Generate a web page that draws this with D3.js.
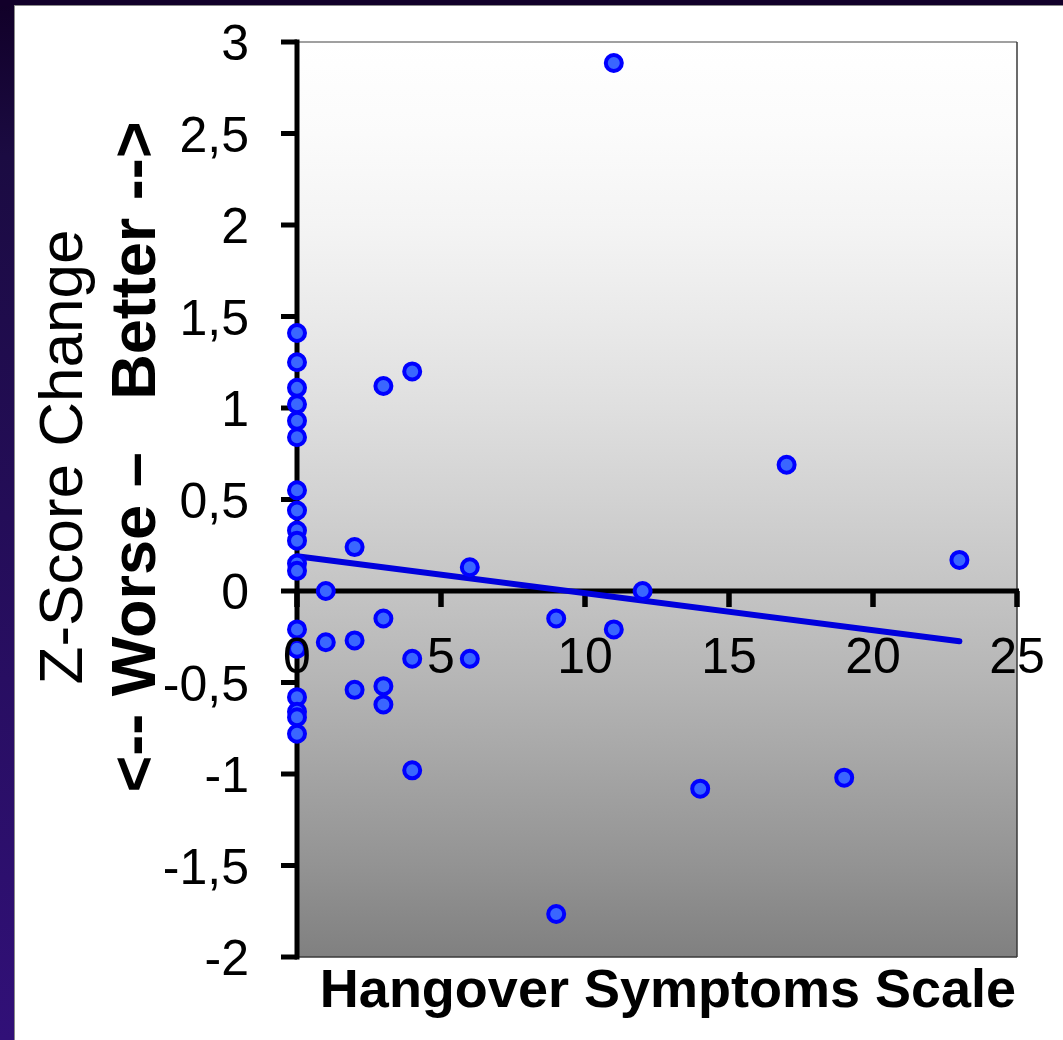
<!DOCTYPE html>
<html>
<head>
<meta charset="utf-8">
<script src="https://cdn.jsdelivr.net/npm/d3@7"></script>
<style>
  html, body { margin: 0; padding: 0; background: #ffffff; }
  svg { display: block; font-family: "Liberation Sans", Arial, sans-serif; }
</style>
</head>
<body>
<svg id="chart" width="1063" height="1040"></svg>
<script>
// Hangover symptom score (x) and change in Z-score (y), one entry per subject
const hangoverScores = [
  0, 0, 0, 0, 0, 0, 0, 0, 0, 0, 0, 0, 0, 0, 0, 0, 0, 0,
  1, 1,
  2, 2, 2,
  3, 3, 3, 3,
  4, 4, 4,
  6, 6,
  9, 9,
  11, 11,
  12, 14, 17, 19, 23
];
const zScoreChange = [
  1.41, 1.25, 1.11, 1.02, 0.93, 0.84, 0.55, 0.44, 0.33, 0.275, 0.15, 0.11, -0.21, -0.315, -0.58, -0.66, -0.69, -0.78,
  0.0, -0.28,
  0.24, -0.27, -0.54,
  1.12, -0.15, -0.52, -0.62,
  1.2, -0.37, -0.98,
  0.13, -0.37,
  -0.15, -1.765,
  2.885, -0.21,
  0.0, -1.08, 0.69, -1.02, 0.17
];

// Linear fit drawn across the observed score range
const trendHangover = [0, 23];
const trendZScore = [0.19, -0.275];

const xTickValues = [0, 5, 10, 15, 20, 25];
const yTickValues = [-2, -1.5, -1, -0.5, 0, 0.5, 1, 1.5, 2, 2.5, 3];

const xAxisTitle = "Hangover Symptoms Scale";
const yAxisTitle = "Z-Score Change";
const yAxisHint = "<-- Worse –   Better -->";

const points = hangoverScores.map((h, i) => ({ h, z: zScoreChange[i] }));
const trend = trendHangover.map((h, i) => ({ h, z: trendZScore[i] }));

const W = 1063, H = 1040;
const plot = { left: 297, right: 1017, top: 42, bottom: 957 };

const x = d3.scaleLinear().domain([0, 25]).range([plot.left, plot.right]);
const y = d3.scaleLinear().domain([-2, 3]).range([plot.bottom, plot.top]);

const locale = d3.formatLocale({ decimal: ",", thousands: ".", grouping: [3], currency: ["", ""], minus: "-" });
const fmt = locale.format("~g");

const svg = d3.select("#chart");
const defs = svg.append("defs");

// Slide background: dark purple frame with a white panel
const frameGrad = defs.append("linearGradient")
  .attr("id", "frameGrad").attr("x1", 0).attr("y1", 0).attr("x2", 0).attr("y2", 1);
frameGrad.append("stop").attr("offset", 0).attr("stop-color", "#110028");
frameGrad.append("stop").attr("offset", 0.15).attr("stop-color", "#1b0b42");
frameGrad.append("stop").attr("offset", 1).attr("stop-color", "#311078");

svg.append("rect").attr("x", 0).attr("y", 0).attr("width", W).attr("height", H)
  .attr("fill", "url(#frameGrad)");
svg.append("rect").attr("x", 0).attr("y", 0).attr("width", W).attr("height", 6)
  .attr("fill", "#12002a");
svg.append("rect").attr("x", 14.5).attr("y", 5.5).attr("width", W).attr("height", H)
  .attr("fill", "#ffffff").attr("stroke", "#8a8a8a").attr("stroke-width", 1);

// Plot area: white fading into mid grey
const plotGrad = defs.append("linearGradient")
  .attr("id", "plotGrad").attr("x1", 0).attr("y1", 0).attr("x2", 0).attr("y2", 1);
d3.range(0, 1.0001, 0.1).forEach(f => {
  const v = Math.round(255 - 127 * Math.pow(f, 1.5));
  plotGrad.append("stop").attr("offset", f).attr("stop-color", d3.rgb(v, v, v).formatHex());
});

svg.append("rect")
  .attr("x", plot.left).attr("y", plot.top)
  .attr("width", plot.right - plot.left).attr("height", plot.bottom - plot.top)
  .attr("fill", "url(#plotGrad)");
// Plot border: grey top, darker right and bottom
svg.append("line").attr("x1", plot.left).attr("x2", plot.right).attr("y1", plot.top).attr("y2", plot.top)
  .attr("stroke", "#808080").attr("stroke-width", 1.5);
svg.append("line").attr("x1", plot.right).attr("x2", plot.right).attr("y1", plot.top).attr("y2", plot.bottom)
  .attr("stroke", "#3a3a3a").attr("stroke-width", 1.5);
svg.append("line").attr("x1", plot.left).attr("x2", plot.right).attr("y1", plot.bottom).attr("y2", plot.bottom)
  .attr("stroke", "#3a3a3a").attr("stroke-width", 1.5);

// Axis lines and tick marks
const axes = svg.append("g").attr("stroke", "#000000");
axes.append("line").attr("x1", x(0)).attr("x2", x(0)).attr("y1", y(3) - 2.5).attr("y2", y(-2) + 2.5)
  .attr("stroke-width", 5);
axes.selectAll(".ytick").data(yTickValues).join("line")
  .attr("x1", x(0) - 16).attr("x2", x(0)).attr("y1", d => y(d)).attr("y2", d => y(d))
  .attr("stroke-width", 5);
axes.append("line").attr("x1", x(0)).attr("x2", x(25) + 2).attr("y1", y(0)).attr("y2", y(0))
  .attr("stroke-width", 5);
axes.selectAll(".xtick").data(xTickValues).join("line")
  .attr("x1", d => x(d)).attr("x2", d => x(d)).attr("y1", y(0)).attr("y2", y(0) + 16)
  .attr("stroke-width", 5.5);

// Trend line
svg.append("path")
  .datum(trend)
  .attr("d", d3.line().x(d => x(d.h)).y(d => y(d.z)))
  .attr("fill", "none").attr("stroke", "#0000dd").attr("stroke-width", 6)
  .attr("stroke-linecap", "round");

// Scatter points
svg.append("g").selectAll("circle").data(points).join("circle")
  .attr("cx", d => x(d.h)).attr("cy", d => y(d.z)).attr("r", 8)
  .attr("fill", "#3a66ff").attr("stroke", "#0000ff").attr("stroke-width", 4);

// Tick labels
svg.append("g").selectAll("text").data(yTickValues).join("text")
  .attr("x", 249).attr("y", d => y(d)).attr("dy", "0.36em")
  .attr("text-anchor", "end").attr("font-size", 50).attr("fill", "#000")
  .text(d => fmt(d));
svg.append("g").selectAll("text").data(xTickValues).join("text")
  .attr("x", d => x(d)).attr("y", 673)
  .attr("text-anchor", "middle").attr("font-size", 50).attr("fill", "#000")
  .text(d => fmt(d));

// Axis titles
svg.append("text")
  .attr("x", 668).attr("y", 1007)
  .attr("text-anchor", "middle").attr("font-size", 54).attr("font-weight", "bold")
  .text(xAxisTitle);
svg.append("text")
  .attr("transform", "translate(82,457) rotate(-90)")
  .attr("text-anchor", "middle").attr("font-size", 62)
  .text(yAxisTitle);
svg.append("text")
  .attr("transform", "translate(155,457) rotate(-90)")
  .attr("text-anchor", "middle").attr("font-size", 63).attr("font-weight", "bold")
  .style("white-space", "pre")
  .text(yAxisHint);
</script>
</body>
</html>
